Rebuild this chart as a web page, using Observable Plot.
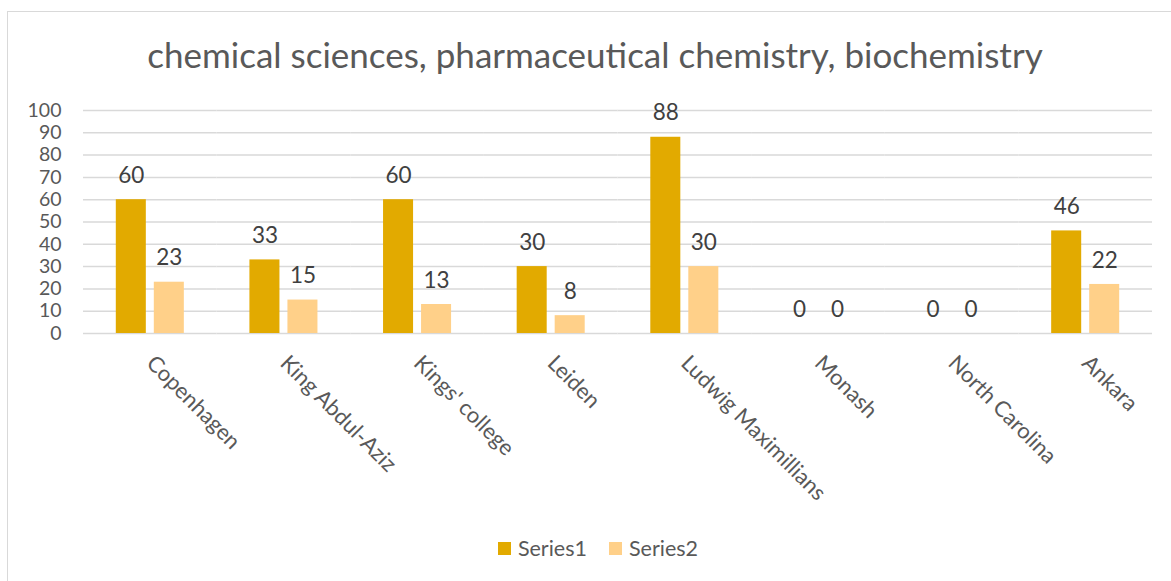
<!DOCTYPE html>
<html>
<head>
<meta charset="utf-8">
<script src="https://cdn.jsdelivr.net/npm/d3@7"></script>
<script src="https://cdn.jsdelivr.net/npm/@observablehq/plot@0.6"></script>
<style>
  html, body { margin: 0; padding: 0; background: #fff; }
  body { width: 1171px; height: 581px; position: relative; overflow: hidden; font-family: Lato, "Open Sans", sans-serif; }
  #frame { position: absolute; left: 7px; top: 11px; width: 1200px; height: 600px; border: 1.5px solid #D9D9D9; box-sizing: border-box; }
  #title { position: absolute; left: 0; width: 1190px; top: 34px; text-align: center; font-size: 35px; color: #595959; line-height: 40px; }
  #chart { position: absolute; left: 0; top: 80px; }
  #legend { position: absolute; top: 535px; left: 0; width: 1196px; display: flex; justify-content: center; gap: 22px; font-size: 21.5px; color: #595959; line-height: 26px; }
  .item { display: flex; align-items: center; gap: 7px; }
  .sw { width: 13px; height: 13px; display: inline-block; }
</style>
</head>
<body>
<div id="frame"></div>
<div id="title">chemical sciences, pharmaceutical chemistry, biochemistry</div>
<div id="chart"></div>
<div id="legend"></div>
<script>
const categories = ["Copenhagen", "King Abdul-Aziz", "Kings' college", "Leiden", "Ludwig Maximillians", "Monash", "North Carolina", "Ankara"];
const seriesNames = ["Series1", "Series2"];
const series1 = [60, 33, 60, 30, 88, 0, 0, 46];
const series2 = [23, 15, 13, 8, 30, 0, 0, 22];
const yTicks = [0, 10, 20, 30, 40, 50, 60, 70, 80, 90, 100];
const colors = ["#E2AA00", "#FFD089"];

const rows = [];
categories.forEach((c, i) => {
  rows.push({cat: c, series: seriesNames[0], value: series1[i]});
  rows.push({cat: c, series: seriesNames[1], value: series2[i]});
});

const chart = Plot.plot({
  width: 1171,
  height: 445,
  marginLeft: 83,
  marginRight: 19,
  marginTop: 30,
  marginBottom: 192,
  style: {fontFamily: "Lato, 'Open Sans', sans-serif", fontSize: "22px", color: "#595959", background: "transparent"},
  fx: {domain: categories, paddingInner: 0, paddingOuter: 0, round: false, label: null, axis: "bottom", tickRotate: 45, tickSize: 0, tickPadding: 26},
  x: {domain: seriesNames, paddingInner: 0.21, paddingOuter: 0.863, round: false, axis: null},
  y: {domain: [0, 100], ticks: yTicks, label: null, tickSize: 0, tickPadding: 22},
  color: {domain: seriesNames, range: colors},
  marks: [
    Plot.ruleY(yTicks, {stroke: "#D9D9D9", strokeWidth: 1.5}),
    Plot.barY(rows, {fx: "cat", x: "series", y: "value", fill: "series"}),
    Plot.text(rows, {fx: "cat", x: "series", y: "value", text: d => String(d.value), dy: -24, fill: "#404040", fontSize: 22.5})
  ]
});
// smaller y tick labels so the tightly spaced ticks do not collide
d3.select(chart).selectAll('g[aria-label="y-axis tick label"], g[aria-label="y-axis"]').attr("font-size", 19.5);
document.getElementById("chart").appendChild(chart);

const legend = document.getElementById("legend");
seriesNames.forEach((s, i) => {
  const item = document.createElement("span");
  item.className = "item";
  const sw = document.createElement("span");
  sw.className = "sw";
  sw.style.background = colors[i];
  item.appendChild(sw);
  item.appendChild(document.createTextNode(s));
  legend.appendChild(item);
});
</script>
</body>
</html>
